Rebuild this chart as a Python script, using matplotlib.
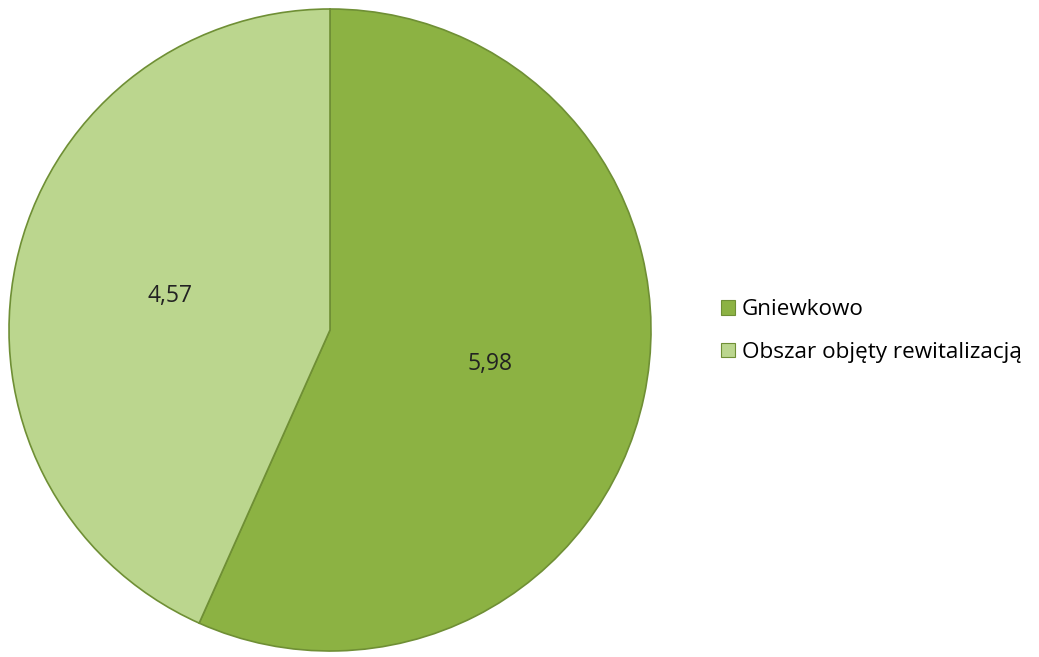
import matplotlib
matplotlib.use("Agg")
import matplotlib.pyplot as plt
from matplotlib.patches import Patch
import numpy as np

categories = ["Gniewkowo", "Obszar objęty rewitalizacją"]
values = [5.98, 4.57]
labels_txt = ["5,98", "4,57"]
colors = ["#8cb243", "#bbd68e"]
edge = "#6f8f35"

fig = plt.figure(figsize=(10.39, 6.57), dpi=100)
ax = fig.add_axes([8/1039, 6/657, 644/1039, 642/657])
wedges, _ = ax.pie(values, colors=colors, startangle=90, counterclock=False,
                   wedgeprops=dict(edgecolor=edge, linewidth=1.2))
total = sum(values)
ang = 90.0
for w, t in zip(values, labels_txt):
    mid = np.deg2rad(ang - w / total * 360 / 2)
    ang -= w / total * 360
    ax.text(0.51 * np.cos(mid), 0.51 * np.sin(mid), t, ha="center", va="center",
            fontsize=16.5, family="Open Sans", color="#222222")
ax.set_xlim(-1.0, 1.0)
ax.set_ylim(-1.0, 1.0)
ax.set_aspect("equal")

handles = [Patch(facecolor=c, edgecolor=edge, linewidth=0.8) for c in colors]
fig.legend(handles, categories, loc="center left", bbox_to_anchor=(701/1039, 1 - 331/657),
           frameon=False, prop={"family": "Open Sans", "size": 16.2},
           handlelength=0.6, handleheight=0.6, handletextpad=0.3, labelspacing=0.95)
fig.savefig("out.png", dpi=100)
